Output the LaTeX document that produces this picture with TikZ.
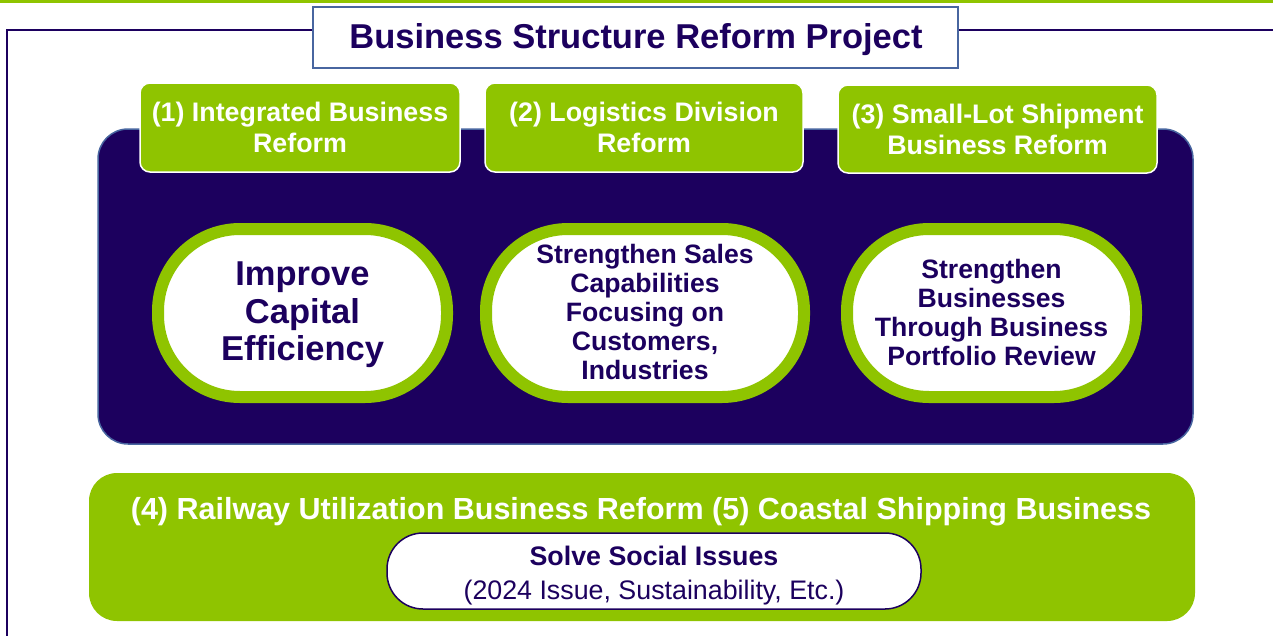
\documentclass[tikz,border=0pt]{standalone}
\usepackage{fontspec}
\setmainfont{Liberation Sans}
\definecolor{lgreen}{RGB}{143,196,0}
\definecolor{navy}{RGB}{28,0,94}
\definecolor{bluish}{RGB}{72,102,160}
\tikzset{
  frameline/.style={draw=navy, line width=2pt},
  titlebox/.style={draw=bluish, line width=1.5pt, fill=white, text=navy, inner sep=0pt, font=\bfseries\fontsize{34.5}{40}\selectfont},
  navybox/.style={draw=bluish, line width=1.5pt, fill=navy, rounded corners=30pt, inner sep=0pt},
  tabbox/.style={draw=white, line width=1.5pt, fill=lgreen, rounded corners=10pt, inner sep=0pt, text=white, align=center, font=\bfseries\fontsize{26.8}{31}\selectfont},
  ovalbox/.style={draw=lgreen, line width=12pt, fill=white, rounded corners=82pt, inner sep=0pt, text=navy, align=center},
  greenbox/.style={fill=lgreen, rounded corners=28pt, inner sep=0pt},
  pillbox/.style={draw=navy, line width=1.5pt, fill=white, rounded corners=36pt, inner sep=0pt, text=navy, align=center},
}
\begin{document}
\begin{tikzpicture}[x=1pt, y=-1pt]
\useasboundingbox (0,0) rectangle (1273,635);
\fill[lgreen] (0,0) rectangle (1273,2.5);
% title
\node[titlebox, minimum width=645pt, minimum height=61pt] (title) at (635.5,37.5) {};
\node[text=navy, inner sep=0pt, font=\bfseries\fontsize{34.5}{40}\selectfont] (ttext) at (636,40) {Business Structure Reform Project};
\coordinate (fl) at (7,30);
\coordinate (fb) at (7,640);
\coordinate (fr) at (1280,30);
\draw[frameline] (fb) -- (fl) -- (fl -| title.west);
\draw[frameline] (title.east |- fr) -- (fr);
% navy box
\node[navybox, minimum width=1095pt, minimum height=315pt] (main) at (645.5,286.5) {};
% tabs
\node[tabbox, minimum width=320pt, minimum height=89pt] (t1) at (300,127.5) {(1) Integrated Business\\Reform};
\node[tabbox, minimum width=318pt, minimum height=89pt] (t2) at (644,127.5) {(2) Logistics Division\\Reform};
\node[tabbox, minimum width=319pt, minimum height=88pt] (t3) at (997.5,129) {(3) Small-Lot Shipment\\Business Reform};
% ovals
\node[ovalbox, minimum width=289pt, minimum height=168pt] (e1) at (302.5,313) {};
\node[ovalbox, minimum width=318pt, minimum height=168pt] (e2) at (645,313) {};
\node[ovalbox, minimum width=289pt, minimum height=168pt] (e3) at (991.5,313) {};
\node[text=navy, align=center, inner sep=0pt, font=\bfseries\fontsize{34.5}{37.5}\selectfont] (e1t) at (302.5,315) {Improve\\Capital\\Efficiency};
\node[text=navy, align=center, inner sep=0pt, font=\bfseries\fontsize{26.6}{29}\selectfont] (e2t) at (645,312) {Strengthen Sales\\Capabilities\\Focusing on\\Customers,\\Industries};
\node[text=navy, align=center, inner sep=0pt, font=\bfseries\fontsize{26.6}{29}\selectfont] (e3t) at (991.5,312) {Strengthen\\Businesses\\Through Business\\Portfolio Review};
% bottom
\node[greenbox, minimum width=1106pt, minimum height=148pt] (bottom) at (642,547) {};
\node[text=white, inner sep=0pt, font=\bfseries\fontsize{30.5}{35}\selectfont] (btext) at (641,512) {(4) Railway Utilization Business Reform (5) Coastal Shipping Business};
\node[pillbox, minimum width=534pt, minimum height=76pt] (pill) at (654,571) {};
\node[text=navy, align=center, inner sep=0pt, font=\fontsize{26.8}{34}\selectfont] (pillt) at (654,576) {\textbf{Solve Social Issues}\\(2024 Issue, Sustainability, Etc.)};
\end{tikzpicture}
\end{document}
